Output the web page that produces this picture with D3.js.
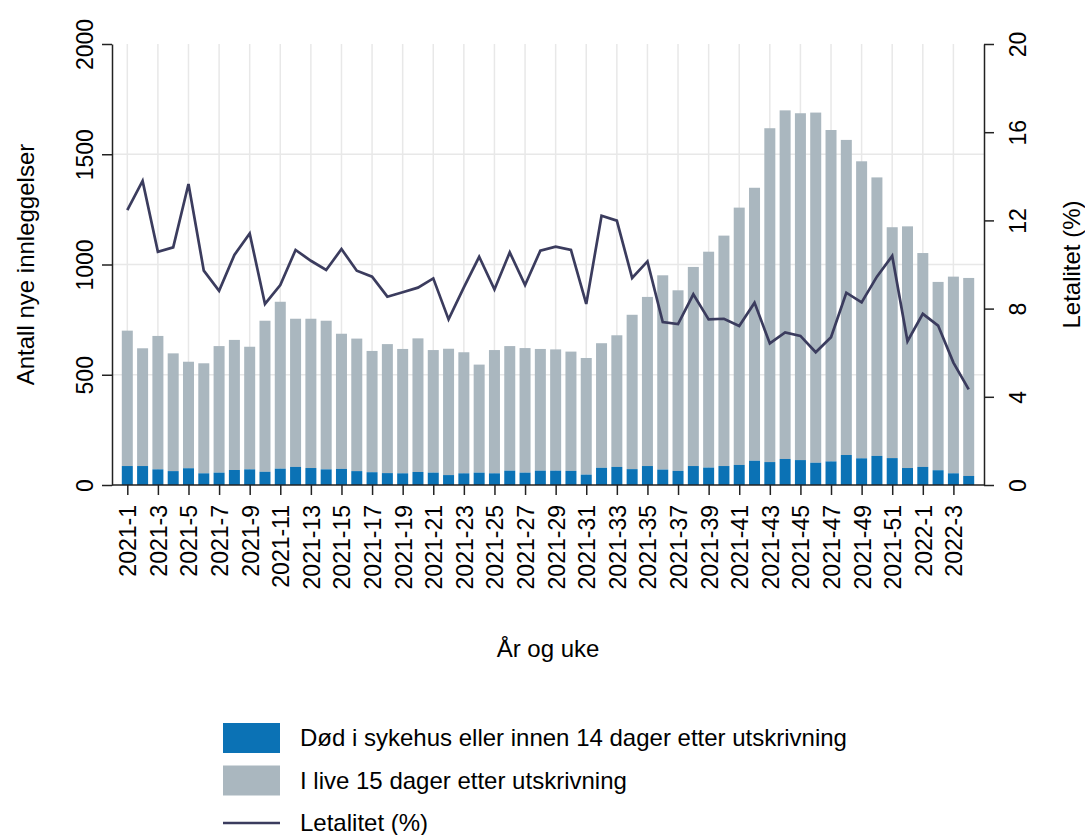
<!DOCTYPE html>
<html>
<head>
<meta charset="utf-8">
<script src="https://cdn.jsdelivr.net/npm/d3@7"></script>
<style>
  body { margin: 0; background: #fff; }
  svg { display: block; font-family: "Liberation Sans", Arial, sans-serif; }
</style>
</head>
<body>
<svg id="chart" width="1085" height="835"></svg>
<script>
// weeks 2021-1 .. 2021-52, 2022-1 .. 2022-4
var weeks = [];
for (var w = 1; w <= 52; w++) weeks.push("2021-" + w);
for (var v = 1; v <= 4; v++) weeks.push("2022-" + v);

// total new admissions per week (top of stacked bar)
var totalAdm = [700, 620, 676, 597, 559, 552, 630, 658, 627, 745,
  831, 754, 754, 745, 686, 664, 608, 639, 617, 665,
  612, 618, 602, 546, 612, 630, 621, 617, 615, 605,
  576, 643, 679, 772, 853, 951, 883, 989, 1058, 1131,
  1258, 1348, 1618, 1699, 1686, 1689, 1610, 1565, 1468, 1395,
  1169, 1173, 1052, 921, 945, 939];

// died in hospital or within 14 days after discharge
var dead = [86, 86, 71, 63, 76, 53, 56, 68, 71, 60,
  74, 82, 77, 71, 73, 63, 58, 54, 53, 59,
  56, 45, 53, 56, 53, 65, 56, 65, 65, 64,
  47, 78, 82, 72, 86, 70, 64, 86, 79, 86,
  91, 110, 104, 118, 113, 101, 107, 136, 121, 132,
  122, 77, 82, 67, 53, 41];

// lethality (%)
var letalitet = [12.47, 13.79, 10.58, 10.78, 13.65, 9.72, 8.81, 10.43, 11.41, 8.21,
  9.07, 10.66, 10.17, 9.75, 10.70, 9.72, 9.45, 8.54, 8.74, 8.95,
  9.37, 7.51, 8.96, 10.35, 8.87, 10.55, 9.07, 10.63, 10.81, 10.66,
  8.21, 12.21, 11.99, 9.39, 10.14, 7.39, 7.30, 8.65, 7.51, 7.54,
  7.21, 8.27, 6.42, 6.92, 6.76, 6.02, 6.70, 8.72, 8.28, 9.45,
  10.39, 6.52, 7.76, 7.23, 5.55, 4.34];

var leftTicks = [0, 500, 1000, 1500, 2000];
var rightTicks = [0, 4, 8, 12, 16, 20];
var xTicks = weeks.filter(function (d, i) { return i % 2 === 0; });

var legendItems = [
  { label: "Død i sykehus eller innen 14 dager etter utskrivning", type: "rect", color: "#0b72b5" },
  { label: "I live 15 dager etter utskrivning", type: "rect", color: "#aab7bf" },
  { label: "Letalitet (%)", type: "line", color: "#3b3c5e" }
];

var Chart = (function () {

  var svg = d3.select("#chart");
  var pLeft = 112, pRight = 984, pTop = 44, pBottom = 485;

  var x = d3.scalePoint().domain(weeks).range([pLeft, pRight]).padding(1);
  var yL = d3.scaleLinear().domain([0, 2000]).range([pBottom, pTop]);
  var yR = d3.scaleLinear().domain([0, 20]).range([pBottom, pTop]);
  var barW = 11;

  // grid
  svg.append("g").selectAll("line")
    .data([500, 1000, 1500])
    .enter().append("line")
    .attr("x1", pLeft).attr("x2", pRight)
    .attr("y1", function (d) { return yL(d); })
    .attr("y2", function (d) { return yL(d); })
    .attr("stroke", "#e8e8e8").attr("stroke-width", 1.5);

  svg.append("g").selectAll("line")
    .data(xTicks)
    .enter().append("line")
    .attr("x1", function (d) { return x(d); })
    .attr("x2", function (d) { return x(d); })
    .attr("y1", pTop).attr("y2", pBottom)
    .attr("stroke", "#e8e8e8").attr("stroke-width", 1.5);

  // bars
  var bars = svg.append("g");
  bars.selectAll("rect.alive")
    .data(weeks)
    .enter().append("rect")
    .attr("class", "alive")
    .attr("x", function (d) { return x(d) - barW / 2; })
    .attr("y", function (d, i) { return yL(totalAdm[i]); })
    .attr("width", barW)
    .attr("height", function (d, i) { return yL(dead[i]) - yL(totalAdm[i]); })
    .attr("fill", legendItems[1].color);

  bars.selectAll("rect.dead")
    .data(weeks)
    .enter().append("rect")
    .attr("class", "dead")
    .attr("x", function (d) { return x(d) - barW / 2; })
    .attr("y", function (d, i) { return yL(dead[i]); })
    .attr("width", barW)
    .attr("height", function (d, i) { return pBottom - yL(dead[i]); })
    .attr("fill", legendItems[0].color);

  // line
  var line = d3.line()
    .x(function (d, i) { return x(weeks[i]); })
    .y(function (d) { return yR(d); });

  svg.append("path")
    .datum(letalitet)
    .attr("d", line)
    .attr("fill", "none")
    .attr("stroke", legendItems[2].color)
    .attr("stroke-width", 2.7)
    .attr("stroke-linejoin", "miter");

  // axes
  var styleAxis = function (g) {
    g.select(".domain").attr("stroke", "#222").attr("stroke-width", 1.5);
    g.selectAll(".tick line").attr("stroke", "#222").attr("stroke-width", 1.5);
    g.selectAll("text").attr("font-size", 23).attr("fill", "#000")
      .attr("font-family", "Liberation Sans, Arial, sans-serif");
  };

  var axL = svg.append("g")
    .attr("transform", "translate(" + pLeft + ",0)")
    .call(d3.axisLeft(yL).tickValues(leftTicks).tickFormat(d3.format("d"))
      .tickSize(10).tickSizeOuter(0));
  styleAxis(axL);
  axL.selectAll("text")
    .attr("transform", "rotate(-90)")
    .attr("x", 0).attr("y", -19).attr("dy", 0)
    .attr("text-anchor", "middle");

  var axR = svg.append("g")
    .attr("transform", "translate(" + pRight + ",0)")
    .call(d3.axisRight(yR).tickValues(rightTicks).tickFormat(d3.format("d"))
      .tickSize(10).tickSizeOuter(0));
  styleAxis(axR);
  axR.selectAll("text")
    .attr("transform", "rotate(-90)")
    .attr("x", 0).attr("y", 42).attr("dy", 0)
    .attr("text-anchor", "middle");

  var axB = svg.append("g")
    .attr("transform", "translate(0," + pBottom + ")")
    .call(d3.axisBottom(x).tickValues(xTicks).tickSize(10).tickSizeOuter(0));
  styleAxis(axB);
  axB.select(".domain").attr("d", "M" + pLeft + ",0H" + pRight);
  axB.selectAll("text")
    .attr("transform", "rotate(-90)")
    .attr("x", -20).attr("y", 8.5).attr("dy", 0)
    .attr("text-anchor", "end");

  // axis titles
  svg.append("text")
    .attr("transform", "translate(34," + ((pTop + pBottom) / 2) + ") rotate(-90)")
    .attr("text-anchor", "middle")
    .attr("font-size", 24)
    .text("Antall nye innleggelser");

  svg.append("text")
    .attr("transform", "translate(1080," + ((pTop + pBottom) / 2) + ") rotate(-90)")
    .attr("text-anchor", "middle")
    .attr("font-size", 24)
    .text("Letalitet (%)");

  svg.append("text")
    .attr("x", (pLeft + pRight) / 2).attr("y", 657)
    .attr("text-anchor", "middle")
    .attr("font-size", 24)
    .text("År og uke");

  // legend
  var leg = svg.append("g").selectAll("g")
    .data(legendItems)
    .enter().append("g")
    .attr("transform", function (d, i) { return "translate(223," + (738 + i * 42.5) + ")"; });

  leg.filter(function (d) { return d.type === "rect"; })
    .append("rect")
    .attr("x", 0).attr("y", -15).attr("width", 57).attr("height", 30)
    .attr("fill", function (d) { return d.color; });

  leg.filter(function (d) { return d.type === "line"; })
    .append("line")
    .attr("x1", 0).attr("x2", 57).attr("y1", 0).attr("y2", 0)
    .attr("stroke", function (d) { return d.color; })
    .attr("stroke-width", 2.7);

  leg.append("text")
    .attr("x", 77).attr("y", 0).attr("dy", "0.35em")
    .attr("font-size", 24)
    .text(function (d) { return d.label; });

  return { x: x, yL: yL, yR: yR };
})();
</script>
</body>
</html>
